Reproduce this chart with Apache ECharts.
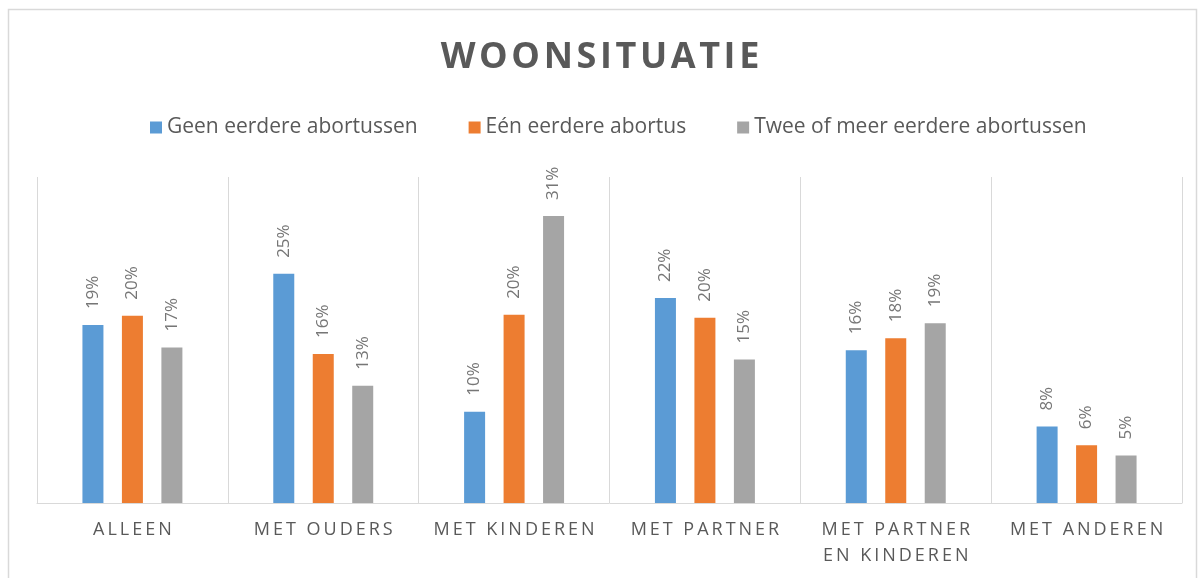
<!DOCTYPE html>
<html>
<head>
<meta charset="utf-8">
<script src="https://cdn.jsdelivr.net/npm/echarts@6/dist/echarts.min.js"></script>
<style>
html,body{margin:0;padding:0;background:#fff;}
#chart{width:1200px;height:578px;}
</style>
</head>
<body>
<div id="chart"></div>
<script>
const title = 'WOONSITUATIE';
const categories = ['ALLEEN', 'MET OUDERS', 'MET KINDEREN', 'MET PARTNER', 'MET PARTNER\nEN KINDEREN', 'MET ANDEREN'];
const seriesNames = ['Geen eerdere abortussen', 'Eén eerdere abortus', 'Twee of meer eerdere abortussen'];
const geenEerdere = [19.1, 24.6, 9.8, 22.0, 16.4, 8.2];
const eenEerdere = [20.1, 16.0, 20.2, 19.9, 17.7, 6.2];
const tweeOfMeer = [16.7, 12.6, 30.8, 15.4, 19.3, 5.1];
const colors = ['#5B9BD5', '#ED7D31', '#A5A5A5'];

const FONT = 'Open Sans';
function spaced(s, sep) {
  return s.split('\n').map(line => line.split('').join(sep)).join('\n');
}

const chart = echarts.init(document.getElementById('chart'), null, {renderer: 'canvas'});
const labelOpt = {
  show: true,
  position: 'top',
  rotate: 90,
  align: 'left',
  verticalAlign: 'middle',
  distance: 16,
  fontFamily: FONT,
  fontSize: 17,
  color: '#767676',
  formatter: p => Math.round(p.value) + '%'
};
const seriesData = [geenEerdere, eenEerdere, tweeOfMeer];
chart.setOption({
  animation: false,
  color: colors,
  title: {
    text: spaced(title, '\u200A'),
    left: 'center',
    top: 35,
    textStyle: {fontFamily: FONT, fontSize: 36, fontWeight: 'bold', color: '#595959'}
  },
  legend: {
    top: 112,
    left: 145,
    itemWidth: 12,
    itemHeight: 12,
    itemGap: 51,
    icon: 'rect',
    textStyle: {fontFamily: FONT, fontSize: 21, color: '#595959', padding: [0, 0, 0, 0]},
    data: seriesNames
  },
  grid: {left: 37, right: 18, top: 177, bottom: 75, containLabel: false},
  xAxis: {
    type: 'category',
    data: categories,
    axisLine: {lineStyle: {color: '#D9D9D9', width: 1}},
    axisTick: {show: false},
    splitLine: {show: true, interval: 0, lineStyle: {color: '#D9D9D9', width: 1}},
    axisLabel: {
      interval: 0,
      fontFamily: FONT,
      fontSize: 18,
      color: '#595959',
      margin: 14,
      lineHeight: 26,
      formatter: v => spaced(v, '\u2009')
    }
  },
  yAxis: {
    type: 'value',
    min: 0,
    max: 35,
    show: false,
    splitLine: {show: false}
  },
  series: seriesData.map((d, i) => ({
    name: seriesNames[i],
    type: 'bar',
    data: d,
    barWidth: 21,
    barGap: '88%',
    label: labelOpt
  })),
  graphic: [{
    type: 'rect',
    shape: {x: 8.5, y: 9.5, width: 1188, height: 600},
    style: {fill: 'none', stroke: '#D9D9D9', lineWidth: 1.5},
    silent: true
  }]
});
</script>
</body>
</html>
